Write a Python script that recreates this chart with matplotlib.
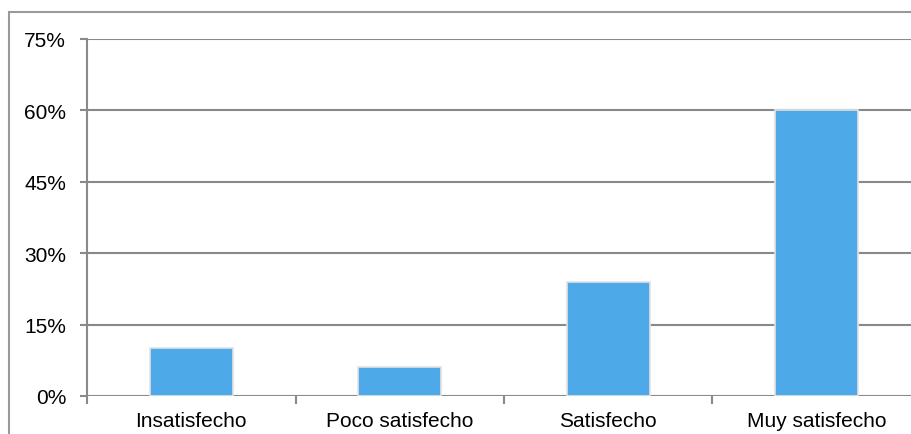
import matplotlib.pyplot as plt
from matplotlib.patches import Rectangle
from matplotlib.ticker import FixedLocator, PercentFormatter

categories = ["Insatisfecho", "Poco satisfecho", "Satisfecho", "Muy satisfecho"]
percentages = [10, 6, 24, 60]
y_ticks = [0, 15, 30, 45, 60, 75]

plt.rcParams["font.family"] = ["Liberation Sans", "DejaVu Sans"]

grid_color = "#898989"
bar_color = "#4da9e8"

fig = plt.figure(figsize=(9.12, 4.35), dpi=100)

# outer chart frame (runs off the right and bottom edges)
frame = Rectangle((9 / 912, -0.1), 1.0, (435 - 13) / 435 + 0.1,
                  transform=fig.transFigure, fill=False,
                  edgecolor="#9a9a9a", linewidth=1.5)
fig.patches.append(frame)

ax = fig.add_axes([87 / 912, 38 / 435, 834 / 912, 357 / 435])

x = list(range(len(categories)))
ax.bar(x, percentages, width=0.4, color=bar_color,
       edgecolor="#e2e2e2", linewidth=1.2, zorder=3)

ax.set_xlim(-0.5, len(categories) - 0.5)
ax.set_ylim(0, 75)
ax.set_yticks(y_ticks)
ax.yaxis.set_major_formatter(PercentFormatter(decimals=0))

ax.set_xticks(x)
ax.set_xticklabels(categories)
ax.xaxis.set_minor_locator(FixedLocator([i - 0.5 for i in range(len(categories) + 1)]))

ax.grid(axis="y", color=grid_color, linewidth=1.5, zorder=1)
ax.set_axisbelow(True)

for side in ["top", "right", "bottom"]:
    ax.spines[side].set_visible(False)
ax.spines["left"].set_color(grid_color)
ax.spines["left"].set_linewidth(1.5)

ax.tick_params(axis="y", length=5, width=1.5, color=grid_color,
               labelsize=15, pad=10)
ax.tick_params(axis="x", which="major", length=0, labelsize=15, pad=11)
ax.tick_params(axis="x", which="minor", length=6, width=1.5, color=grid_color)

fig.savefig("out.png", dpi=100)
